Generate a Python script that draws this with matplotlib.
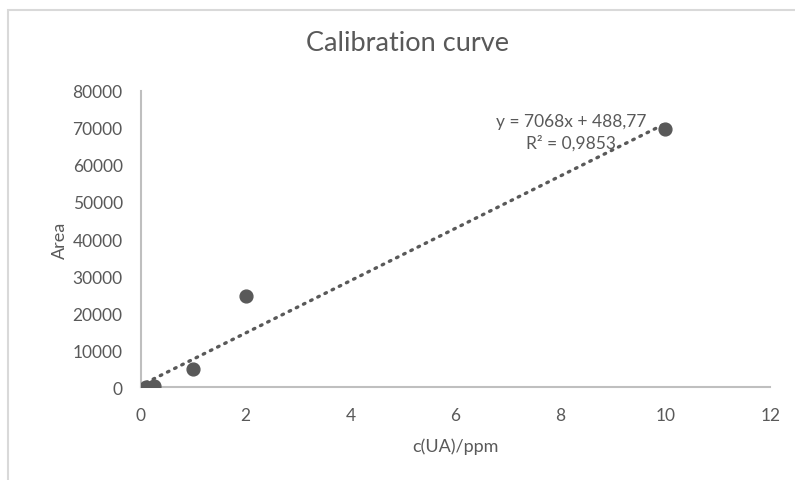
import matplotlib
matplotlib.use("Agg")
import numpy as np
import matplotlib.pyplot as plt
from matplotlib.patches import Rectangle

# 数据
conc = [0.1, 0.25, 1.0, 2.0, 10.0]
area = [100, 300, 5000, 24500, 69800]
slope = 7068
intercept = 488.77
eq_text = "y = 7068x + 488,77\nR² = 0,9853"
x_ticks = [0, 2, 4, 6, 8, 10, 12]
y_ticks = [0, 10000, 20000, 30000, 40000, 50000, 60000, 70000, 80000]

plt.rcParams["font.family"] = ["Lato", "DejaVu Sans"]
grey = "#595959"

fig = plt.figure(figsize=(7.95, 4.81), dpi=100)
# 外框（Excel图表区边框）
fig.patches.append(Rectangle((8 / 795, -0.1), 1.2, 1 - 11 / 481 + 0.1,
                             transform=fig.transFigure, fill=False,
                             edgecolor="#d9d9d9", linewidth=1.5))

ax = fig.add_axes([0.177, 0.193, 0.792, 0.616])

# 趋势线
xs = np.array([min(conc), max(conc)])
ax.plot(xs, slope * xs + intercept, linestyle=(0, (0.5, 1.9)), color=grey,
        linewidth=2.4, dash_capstyle="round", zorder=2)
ax.scatter(conc, area, s=85, color=grey, zorder=3)

ax.set_xlim(0, 12)
ax.set_ylim(0, 80000)
ax.set_xticks(x_ticks)
ax.set_yticks(y_ticks)
ax.tick_params(length=0, labelsize=12.5, labelcolor=grey)
ax.tick_params(axis="y", pad=13)
ax.tick_params(axis="x", pad=14)
for s in ["top", "right"]:
    ax.spines[s].set_visible(False)
for s in ["left", "bottom"]:
    ax.spines[s].set_color("#bfbfbf")
    ax.spines[s].set_linewidth(1.5)

ax.set_xlabel("c(UA)/ppm", fontsize=13, color=grey, labelpad=11)
ax.set_ylabel("Area", fontsize=13, color=grey, labelpad=3.5)
fig.suptitle("Calibration curve", x=0.512, y=0.935, fontsize=19.5, color=grey)

ax.text(8.2, 69000, eq_text, ha="center", va="center", fontsize=12.5,
        color=grey, linespacing=1.35)

fig.savefig("out.png", dpi=100)
